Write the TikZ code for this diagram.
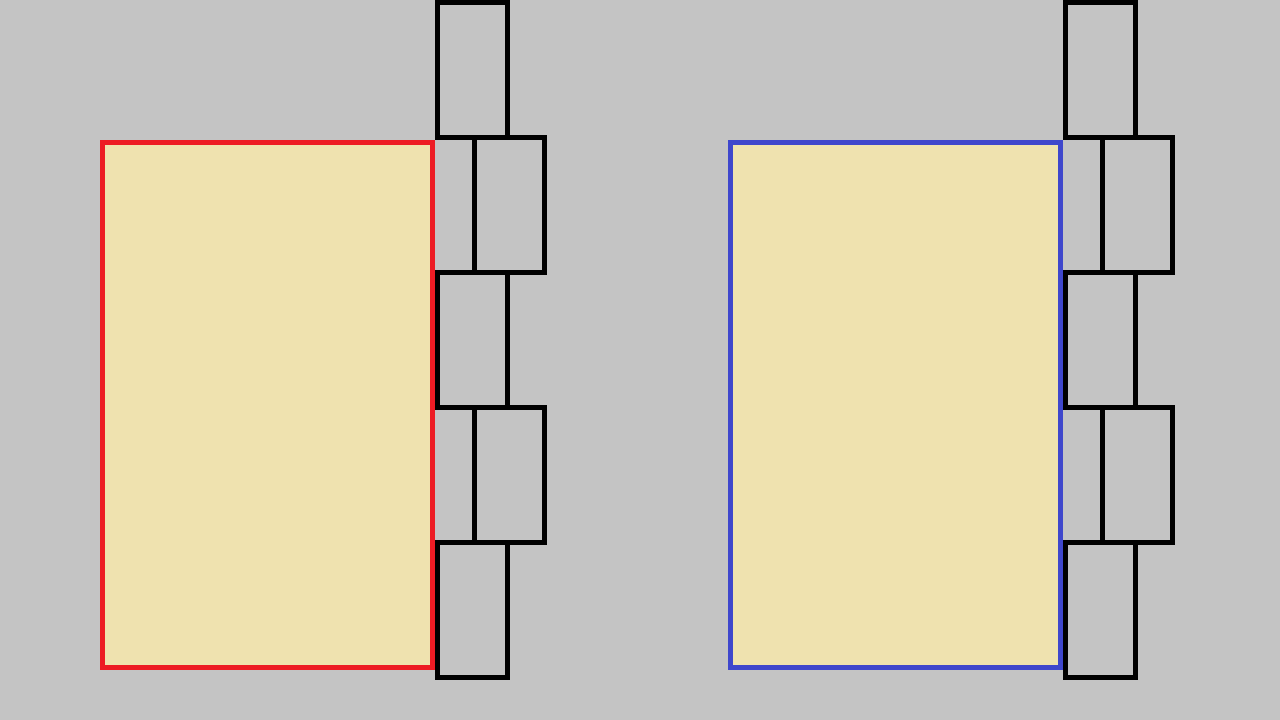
\documentclass[tikz,border=0pt]{standalone}
\usetikzlibrary{positioning}
\definecolor{bggray}{RGB}{196,196,196}
\definecolor{pagefill}{RGB}{239,226,175}
\definecolor{pagered}{RGB}{237,28,36}
\definecolor{pageblue}{RGB}{63,71,204}
\begin{document}
\begin{tikzpicture}[
    x=1pt, y=-1pt,
    page/.style={fill=pagefill, line width=5pt, minimum width=330pt, minimum height=525pt, inner sep=0pt}, % 书页
    tab/.style={draw=black, line width=5pt, minimum width=70pt, minimum height=135pt, inner sep=0pt} % 标签
]
    % 背景
    \fill[bggray] (0,0) rectangle (1280,720);
    \useasboundingbox (0,0) rectangle (1280,720);

    % 两组:书页 + 五个错开的标签
    \foreach \col/\dx/\nm in {pagered/0/L, pageblue/628/R} {
        \node[page, draw=\col] (page\nm) at (267.5+\dx, 405) {};
        \foreach \i/\sx in {1/472.5, 2/509.5, 3/472.5, 4/509.5, 5/472.5} {
            \node[tab] (tab\nm\i) at (\sx+\dx, {70+135*(\i-1)}) {};
        }
    }
\end{tikzpicture}
\end{document}
